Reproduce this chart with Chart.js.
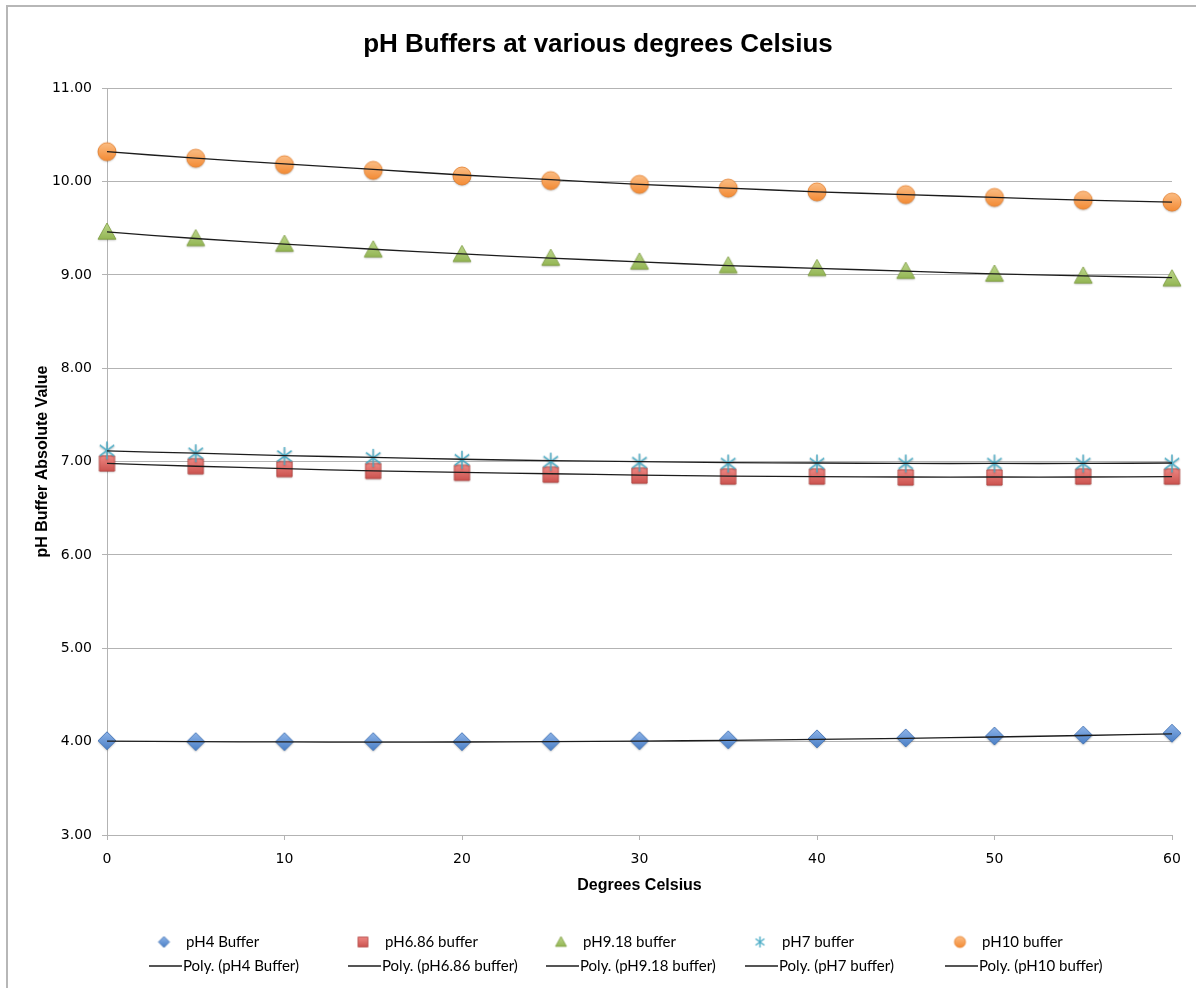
<!DOCTYPE html>
<html>
<head>
<meta charset="utf-8">
<title>pH Buffers at various degrees Celsius</title>
<script src="https://cdn.jsdelivr.net/npm/chart.js@4.4.1/dist/chart.umd.min.js"></script>
<style>
    body { margin: 0; background: #fff; }
    #wrap { width: 1196px; height: 988px; }
</style>
</head>
<body>
<div id="wrap"><canvas id="plot-data" width="1196" height="988"></canvas></div>
<script>
// temperatures (x axis)
const degrees = [0, 5, 10, 15, 20, 25, 30, 35, 40, 45, 50, 55, 60]

// measured buffer values
const ph4Buffer = [4.01, 4.00, 4.00, 4.00, 4.00, 4.00, 4.01, 4.02, 4.03, 4.04, 4.06, 4.07, 4.09]
const ph686Buffer = [6.98, 6.95, 6.92, 6.90, 6.88, 6.86, 6.85, 6.84, 6.84, 6.83, 6.83, 6.84, 6.84]
const ph918Buffer = [9.46, 9.39, 9.33, 9.27, 9.22, 9.18, 9.14, 9.10, 9.07, 9.04, 9.01, 8.99, 8.96]
const ph7Buffer = [7.12, 7.09, 7.06, 7.04, 7.02, 7.00, 6.99, 6.98, 6.98, 6.98, 6.98, 6.98, 6.98]
const ph10Buffer = [10.32, 10.25, 10.18, 10.12, 10.06, 10.01, 9.97, 9.93, 9.89, 9.86, 9.83, 9.80, 9.78]

// polynomial trendlines
const ph4Trend = [4.005, 4.00, 3.997, 3.995, 3.996, 4.00, 4.006, 4.014, 4.024, 4.036, 4.05, 4.066, 4.084]
const ph686Trend = [6.98, 6.95, 6.925, 6.90, 6.885, 6.87, 6.855, 6.845, 6.84, 6.835, 6.835, 6.835, 6.84]
const ph918Trend = [9.46, 9.39, 9.33, 9.275, 9.225, 9.18, 9.14, 9.10, 9.07, 9.04, 9.01, 8.99, 8.97]
const ph7Trend = [7.115, 7.09, 7.065, 7.045, 7.025, 7.01, 7.00, 6.99, 6.985, 6.98, 6.98, 6.98, 6.985]
const ph10Trend = [10.32, 10.25, 10.19, 10.13, 10.07, 10.02, 9.97, 9.93, 9.89, 9.86, 9.83, 9.80, 9.78]

const seriesNames = ['pH4 Buffer', 'pH6.86 buffer', 'pH9.18 buffer', 'pH7 buffer', 'pH10 buffer']
const seriesValues = [ph4Buffer, ph686Buffer, ph918Buffer, ph7Buffer, ph10Buffer]
const trendValues = [ph4Trend, ph686Trend, ph918Trend, ph7Trend, ph10Trend]

// Excel-ish marker look: shape, fill top, fill bottom, edge
const markerLook = [
    ['diamond', '#8db3e8', '#4a7fc6', '#3a6cb0'],
    ['square', '#f08a86', '#c9504c', '#b04440'],
    ['triangle', '#bcd68a', '#8fb24e', '#7d9d40'],
    ['star', '#4bacc6', '#4bacc6', '#4bacc6'],
    ['circle', '#fbbd84', '#f38b35', '#e67d28']
]

function makeMarker(look, size, shadow) {
    const pad = 4
    const c = document.createElement('canvas')
    c.width = size + pad * 2
    c.height = size + pad * 2
    const g = c.getContext('2d')
    const m = c.width / 2
    const h = size / 2
    const grad = g.createLinearGradient(0, m - h, 0, m + h)
    grad.addColorStop(0, look[1])
    grad.addColorStop(1, look[2])
    if (shadow) {
        g.shadowColor = 'rgba(0,0,0,0.3)'
        g.shadowBlur = 2
        g.shadowOffsetY = 1
    }
    g.beginPath()
    if (look[0] === 'diamond') {
        g.moveTo(m, m - h)
        g.lineTo(m + h, m)
        g.lineTo(m, m + h)
        g.lineTo(m - h, m)
        g.closePath()
    } else if (look[0] === 'square') {
        g.rect(m - h * 0.9, m - h * 0.9, h * 1.8, h * 1.8)
    } else if (look[0] === 'triangle') {
        g.moveTo(m, m - h)
        g.lineTo(m + h, m + h * 0.8)
        g.lineTo(m - h, m + h * 0.8)
        g.closePath()
    } else if (look[0] === 'circle') {
        g.arc(m, m, h, 0, Math.PI * 2)
    }
    if (look[0] === 'star') {
        g.strokeStyle = look[3]
        g.lineWidth = 1.4
        g.moveTo(m, m - h)
        g.lineTo(m, m + h)
        g.moveTo(m - h * 0.8, m - h * 0.6)
        g.lineTo(m + h * 0.8, m + h * 0.6)
        g.moveTo(m + h * 0.8, m - h * 0.6)
        g.lineTo(m - h * 0.8, m + h * 0.6)
        g.stroke()
    } else {
        g.fillStyle = grad
        g.fill()
        g.shadowColor = 'transparent'
        g.strokeStyle = look[3]
        g.lineWidth = 0.8
        g.stroke()
    }
    return c
}

const plotMarkers = markerLook.map(function(look, i) {
    const sizes = [18, 17, 18, 18, 18]
    return makeMarker(look, sizes[i], true)
})
const legendMarkers = markerLook.map(function(look) {
    return makeMarker(look, 11, false)
})

function toPoints(values) {
    return degrees.map(function(d, i) { return { x: d, y: values[i] } })
}

const datasets = []
trendValues.forEach(function(values, i) {
    datasets.push({
        label: 'Poly. (' + seriesNames[i] + ')',
        data: toPoints(values),
        showLine: true,
        borderColor: '#1c1c1c',
        borderWidth: 1.3,
        pointRadius: 0,
        tension: 0.3,
        clip: false,
        order: 0
    })
})
seriesValues.forEach(function(values, i) {
    datasets.push({
        label: seriesNames[i],
        data: toPoints(values),
        showLine: false,
        pointStyle: plotMarkers[i],
        pointRadius: 9,
        clip: false,
        order: 5 - i
    })
})

// frame + two-row legend like the spreadsheet
const sheetLook = {
    id: 'sheetLook',
    beforeDraw(chart) {
        const ctx = chart.ctx
        ctx.save()
        ctx.strokeStyle = '#b7b7b7'
        ctx.lineWidth = 2
        ctx.beginPath()
        ctx.moveTo(7, 988)
        ctx.lineTo(7, 6)
        ctx.lineTo(1196, 6)
        ctx.stroke()
        ctx.restore()
    },
    afterDraw(chart) {
        const ctx = chart.ctx
        const cols = [149, 348, 546, 745, 945]
        ctx.save()
        ctx.font = '15px Lato'
        ctx.fillStyle = '#000'
        ctx.textBaseline = 'middle'
        seriesNames.forEach(function(name, i) {
            const img = legendMarkers[i]
            ctx.drawImage(img, cols[i] + 15 - img.width / 2, 942 - img.height / 2)
            ctx.fillText(name, cols[i] + 37, 942)
            ctx.strokeStyle = '#1c1c1c'
            ctx.lineWidth = 1.3
            ctx.beginPath()
            ctx.moveTo(cols[i], 966)
            ctx.lineTo(cols[i] + 33, 966)
            ctx.stroke()
            ctx.fillText('Poly. (' + name + ')', cols[i] + 34, 966)
        })
        ctx.restore()
    }
}

const ctx = document.getElementById('plot-data').getContext('2d')
const graph = new Chart(ctx, {
    type: 'scatter',
    data: { datasets: datasets },
    plugins: [sheetLook],
    options: {
        responsive: false,
        animation: false,
        layout: {
            padding: { left: 24, right: 24, top: 0, bottom: 83 }
        },
        plugins: {
            legend: { display: false },
            tooltip: { enabled: false },
            title: {
                display: true,
                text: 'pH Buffers at various degrees Celsius',
                color: '#000',
                font: { family: 'Liberation Sans', size: 26, weight: 'bold' },
                padding: { top: 29, bottom: 28 }
            }
        },
        scales: {
            x: {
                type: 'linear',
                min: 0,
                max: 60,
                afterFit(scale) { scale.height = 70 },
                ticks: {
                    stepSize: 10,
                    color: '#000',
                    padding: 11,
                    font: { family: 'DejaVu Sans', size: 14 }
                },
                grid: {
                    drawOnChartArea: false,
                    drawTicks: true,
                    tickLength: 5,
                    color: '#b3b3b3'
                },
                border: { color: '#b3b3b3' },
                title: {
                    display: true,
                    text: 'Degrees Celsius',
                    color: '#000',
                    font: { family: 'Liberation Sans', size: 16, weight: 'bold' },
                    padding: { top: 0, bottom: 10 }
                }
            },
            y: {
                min: 3,
                max: 11,
                afterFit(scale) { scale.width = 83 },
                ticks: {
                    stepSize: 1,
                    color: '#000',
                    padding: 10,
                    font: { family: 'DejaVu Sans', size: 14 },
                    callback: function(v) { return v.toFixed(2) }
                },
                grid: {
                    color: '#b3b3b3',
                    tickLength: 5
                },
                border: { color: '#b3b3b3' },
                title: {
                    display: true,
                    text: 'pH Buffer Absolute Value',
                    color: '#000',
                    font: { family: 'Liberation Sans', size: 16, weight: 'bold' },
                    padding: { top: 9, bottom: 0 }
                }
            }
        }
    }
})
</script>
</body>
</html>
